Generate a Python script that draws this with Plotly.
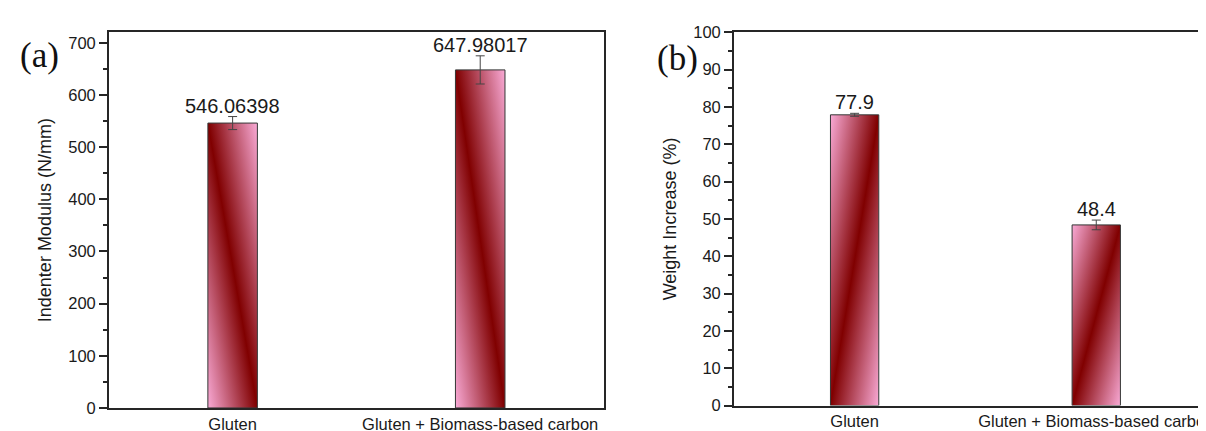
import base64
import plotly.graph_objects as go

# ---- data ----
categories = ["Gluten", "Gluten + Biomass-based carbon"]
modulus = [546.06398, 647.98017]
modulus_err = [12.5, 27.0]
modulus_labels = ["546.06398", "647.98017"]
weight_inc = [77.9, 48.4]
weight_err = [0.4, 1.3]
weight_labels = ["77.9", "48.4"]

BAR_W = 0.2
FONT = "Arial, Liberation Sans, sans-serif"
AX = "#262626"


def grad_uri(x1, y1, x2, y2):
    svg = (
        '<svg xmlns="http://www.w3.org/2000/svg" width="100" height="100" '
        'viewBox="0 0 100 100" preserveAspectRatio="none">'
        f'<defs><linearGradient id="g" gradientUnits="userSpaceOnUse" '
        f'x1="{x1}" y1="{y1}" x2="{x2}" y2="{y2}">'
        '<stop offset="0" stop-color="#F9AAD6"/>'
        '<stop offset="0.5" stop-color="#800000"/>'
        '<stop offset="1" stop-color="#F9AAD6"/>'
        '</linearGradient></defs>'
        '<rect x="0" y="0" width="100" height="100" fill="url(#g)"/></svg>'
    )
    return "data:image/svg+xml;base64," + base64.b64encode(svg.encode()).decode()


fig = go.Figure()
xs = list(range(len(categories)))

panels = [
    # pink at bottom-left & top-right, dark stripe top-left -> bottom-right
    dict(vals=modulus, err=modulus_err, labels=modulus_labels, xa="x", ya="y",
         uri=grad_uri(0, 100, 100, 0)),
    # pink at top-left & bottom-right, dark stripe bottom-left -> top-right
    dict(vals=weight_inc, err=weight_err, labels=weight_labels, xa="x2", ya="y2",
         uri=grad_uri(0, 0, 100, 100)),
]

images = []
annotations = []
for p in panels:
    fig.add_trace(go.Bar(
        x=xs, y=p["vals"], width=BAR_W, xaxis=p["xa"], yaxis=p["ya"],
        marker=dict(color="rgba(0,0,0,0)", line=dict(color="#333333", width=1)),
        error_y=dict(type="data", array=p["err"], visible=True, color="#444444",
                     thickness=1, width=4.5),
        showlegend=False, hoverinfo="skip",
    ))
    for xi, v, e, lab in zip(xs, p["vals"], p["err"], p["labels"]):
        images.append(dict(
            source=p["uri"], xref=p["xa"], yref=p["ya"],
            x=xi - BAR_W / 2, y=v, sizex=BAR_W, sizey=v,
            xanchor="left", yanchor="top", sizing="stretch", layer="below",
        ))
        annotations.append(dict(
            x=xi, y=v + e, xref=p["xa"], yref=p["ya"], text=lab,
            showarrow=False, yanchor="bottom", yshift=-2,
            font=dict(family=FONT, size=20, color="#1a1a1a"),
        ))

for txt, px, py in [("(a)", 32, 40), ("(b)", 671, 43)]:
    annotations.append(dict(x=px / 1206, y=1 - py / 431, xref="paper", yref="paper",
                            text=txt, showarrow=False, xanchor="center",
                            yanchor="middle",
                            font=dict(family="Times New Roman, Liberation Serif, serif",
                                      size=35, color="#111111")))

xcommon = dict(tickvals=xs, ticktext=categories, ticks="", showline=True,
               linecolor=AX, linewidth=1.5, showgrid=False, zeroline=False,
               ticklabeloverflow="allow",
               tickfont=dict(family=FONT, size=16.5, color="#1a1a1a"))
ycommon = dict(showline=True, linecolor=AX, linewidth=1.5, showgrid=False,
               zeroline=False, ticks="outside", ticklen=8, tickwidth=1.5,
               tickcolor=AX, tickfont=dict(family=FONT, size=16.5, color="#1a1a1a"),
               title_font=dict(family=FONT, size=18, color="#1a1a1a"))

fig.update_layout(
    width=1206, height=431,
    margin=dict(l=0, r=0, t=0, b=0),
    paper_bgcolor="white", plot_bgcolor="white",
    xaxis=dict(domain=[101 / 1206, 597 / 1206], range=[-0.5, 1.5], mirror=True,
               anchor="y", **xcommon),
    yaxis=dict(domain=[23 / 431, 415 / 431], range=[0, 720], dtick=100, tick0=0,
               mirror=True, anchor="x",
               minor=dict(dtick=50, ticks="outside", ticklen=4, tickwidth=1.5,
                          tickcolor=AX),
               title=dict(text="Indenter Modulus (N/mm)", standoff=12), **ycommon),
    xaxis2=dict(domain=[727 / 1206, 1.0], range=[-0.5, 1.479], mirror=True,
                anchor="y2", **xcommon),
    yaxis2=dict(domain=[25.5 / 431, 415 / 431], range=[0, 100], dtick=10, tick0=0,
                mirror=False, anchor="x2",
                minor=dict(dtick=5, ticks="outside", ticklen=4, tickwidth=1.5,
                           tickcolor=AX),
                title=dict(text="Weight Increase (%)", standoff=12), **ycommon),
    images=images,
    annotations=annotations,
)

fig.write_html("out.html")
